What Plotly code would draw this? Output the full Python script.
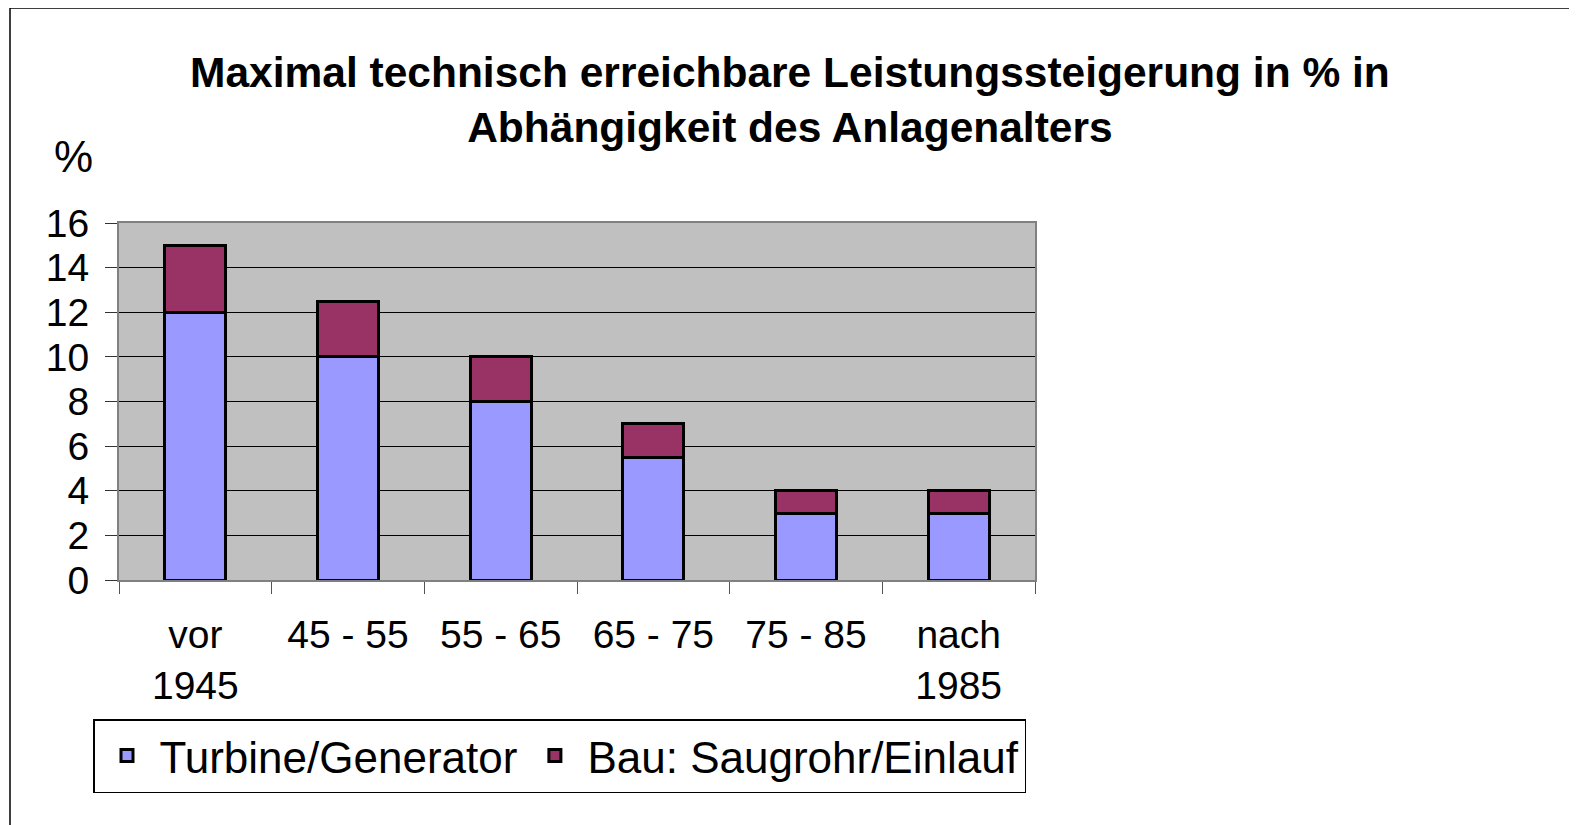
import plotly.graph_objects as go

categories = ["vor<br>1945", "45 - 55", "55 - 65", "65 - 75", "75 - 85", "nach<br>1985"]
turbine = [12, 10, 8, 5.5, 3, 3]
bau = [3, 2.5, 2, 1.5, 1, 1]
y_ticks = [0, 2, 4, 6, 8, 10, 12, 14, 16]

OFF = 8  # page body margin
W, H = 1577 - OFF, 825 - OFF
# plot area in page pixels
L, R, T, B = 119, 1035, 223, 580
pw, ph = R - L, B - T

def px(x):
    return (x - L) / pw

def py(y):
    return (B - y) / ph

font = "Liberation Sans, Arial, sans-serif"

fig = go.Figure()
fig.add_trace(go.Bar(x=categories, y=turbine, name="Turbine/Generator",
                     marker=dict(color="#9999FF", line=dict(color="black", width=3))))
fig.add_trace(go.Bar(x=categories, y=bau, name="Bau: Saugrohr/Einlauf",
                     marker=dict(color="#993366", line=dict(color="black", width=3))))

fig.update_layout(
    width=W, height=H,
    barmode="stack", bargap=0.6,
    plot_bgcolor="#C0C0C0", paper_bgcolor="white",
    margin=dict(l=L - OFF, r=W - (R - OFF), t=T - OFF, b=H - (B - OFF), autoexpand=False),
    font=dict(family=font, size=38, color="black"),
    showlegend=True,
    legend=dict(orientation="h", x=px(93), y=py(719), xanchor="left", yanchor="top",
                traceorder="normal",
                bordercolor="black", borderwidth=1.5, bgcolor="white",
                font=dict(size=44), itemwidth=55),
    xaxis=dict(tickson="boundaries", ticks="outside", ticklen=12, tickcolor="#555",
               showline=True, linecolor="#808080", linewidth=2, mirror=True,
               showgrid=False, tickfont=dict(size=39), ticklabelstandoff=19),
    yaxis=dict(range=[0, 16], tickvals=y_ticks, ticks="outside", ticklen=12, tickcolor="#333",
               showline=True, linecolor="#808080", linewidth=2, mirror=True,
               showgrid=True, gridcolor="black", gridwidth=1, zeroline=False,
               tickfont=dict(size=39), ticklabelstandoff=8),
)

fig.add_annotation(text="<b>Maximal technisch erreichbare Leistungssteigerung in % in<br>Abhängigkeit des Anlagenalters</b>",
                   xref="paper", yref="paper", x=px(790), y=py(100), xanchor="center", yanchor="middle",
                   showarrow=False, font=dict(size=42.5), align="center")
fig.add_annotation(text="%", xref="paper", yref="paper", x=px(73), y=py(156),
                   xanchor="center", yanchor="middle", showarrow=False, font=dict(size=44))

# outer border
fig.add_shape(type="rect", xref="paper", yref="paper",
              x0=px(10), x1=px(1575), y0=py(830), y1=py(8),
              line=dict(color="black", width=1.5), layer="below")

fig.write_html("out.html")
